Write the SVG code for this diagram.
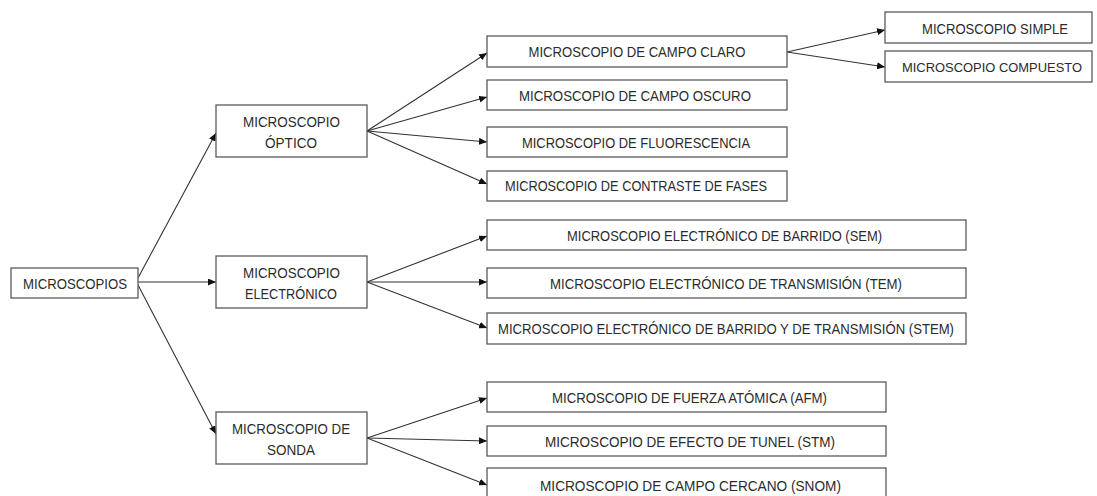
<svg xmlns="http://www.w3.org/2000/svg" width="1097" height="496" viewBox="0 0 1097 496">
<style>
.box{fill:#fff;stroke:#5a5a5a;stroke-width:1.3}
.t{font-family:"Liberation Sans",Arial,sans-serif;font-size:15px;fill:#2b2b2b;text-anchor:middle}
.c{stroke:#333;stroke-width:1.1;fill:none;marker-end:url(#ah)}
</style>
<defs>
<marker id="ah" markerUnits="userSpaceOnUse" markerWidth="8" markerHeight="7" refX="8" refY="3.5" orient="auto">
<path d="M0,0 L8,3.5 L0,7 z" fill="#111"/>
</marker>
</defs>
<rect width="1097" height="496" fill="#fff"/>
<g id="connectors">
<line class="c" x1="138" y1="278" x2="216" y2="133"/>
<line class="c" x1="138" y1="282" x2="216" y2="282"/>
<line class="c" x1="138" y1="285" x2="216" y2="434"/>
<line class="c" x1="367" y1="131" x2="487" y2="53"/>
<line class="c" x1="367" y1="131" x2="487" y2="97"/>
<line class="c" x1="367" y1="131" x2="487" y2="142"/>
<line class="c" x1="367" y1="131" x2="487" y2="184"/>
<line class="c" x1="367" y1="282" x2="487" y2="236"/>
<line class="c" x1="367" y1="282" x2="487" y2="282"/>
<line class="c" x1="367" y1="282" x2="487" y2="328"/>
<line class="c" x1="367" y1="438" x2="487" y2="398"/>
<line class="c" x1="367" y1="438" x2="487" y2="441"/>
<line class="c" x1="367" y1="438" x2="487" y2="485"/>
<line class="c" x1="787" y1="52" x2="885" y2="30"/>
<line class="c" x1="787" y1="52" x2="885" y2="67"/>
</g>
<g id="n-microscopios"><rect class="box" x="11" y="268" width="127" height="30"/><text class="t" x="75" y="288.5" textLength="104" lengthAdjust="spacingAndGlyphs">MICROSCOPIOS</text></g>
<g id="n-optico"><rect class="box" x="216" y="105" width="151" height="52"/><text class="t" x="291.5" y="126.5" textLength="97" lengthAdjust="spacingAndGlyphs">MICROSCOPIO</text><text class="t" x="291" y="147.5" textLength="52" lengthAdjust="spacingAndGlyphs">ÓPTICO</text></g>
<g id="n-electronico"><rect class="box" x="216" y="256" width="151" height="52"/><text class="t" x="291.5" y="277.5" textLength="97" lengthAdjust="spacingAndGlyphs">MICROSCOPIO</text><text class="t" x="291" y="298.5" textLength="92" lengthAdjust="spacingAndGlyphs">ELECTRÓNICO</text></g>
<g id="n-sonda"><rect class="box" x="216" y="412" width="151" height="52"/><text class="t" x="291" y="433.5" textLength="118" lengthAdjust="spacingAndGlyphs">MICROSCOPIO DE</text><text class="t" x="291" y="454.5" textLength="48" lengthAdjust="spacingAndGlyphs">SONDA</text></g>
<g id="n-claro"><rect class="box" x="487" y="36" width="300" height="31"/><text class="t" x="637" y="57" textLength="217" lengthAdjust="spacingAndGlyphs">MICROSCOPIO DE CAMPO CLARO</text></g>
<g id="n-oscuro"><rect class="box" x="487" y="80" width="300" height="30"/><text class="t" x="635" y="100.5" textLength="232" lengthAdjust="spacingAndGlyphs">MICROSCOPIO DE CAMPO OSCURO</text></g>
<g id="n-fluor"><rect class="box" x="487" y="127" width="300" height="30"/><text class="t" x="636" y="147.5" textLength="228" lengthAdjust="spacingAndGlyphs">MICROSCOPIO DE FLUORESCENCIA</text></g>
<g id="n-contraste"><rect class="box" x="487" y="171" width="300" height="30"/><text class="t" x="636" y="191" textLength="262" lengthAdjust="spacingAndGlyphs">MICROSCOPIO DE CONTRASTE DE FASES</text></g>
<g id="n-simple"><rect class="box" x="885" y="12" width="207" height="31"/><text class="t" x="995" y="33.5" textLength="146" lengthAdjust="spacingAndGlyphs">MICROSCOPIO SIMPLE</text></g>
<g id="n-compuesto"><rect class="box" x="885" y="51" width="207" height="31"/><text class="t" x="992" y="71.5" style="font-size:13.5px" textLength="180" lengthAdjust="spacingAndGlyphs">MICROSCOPIO COMPUESTO</text></g>
<g id="n-sem"><rect class="box" x="487" y="220" width="479" height="30"/><text class="t" x="724.5" y="240.5" textLength="315" lengthAdjust="spacingAndGlyphs">MICROSCOPIO ELECTRÓNICO DE BARRIDO (SEM)</text></g>
<g id="n-tem"><rect class="box" x="487" y="268" width="479" height="30"/><text class="t" x="726" y="288.5" textLength="352" lengthAdjust="spacingAndGlyphs">MICROSCOPIO ELECTRÓNICO DE TRANSMISIÓN (TEM)</text></g>
<g id="n-stem"><rect class="box" x="487" y="313" width="479" height="31"/><text class="t" x="726" y="334" textLength="456" lengthAdjust="spacingAndGlyphs">MICROSCOPIO ELECTRÓNICO DE BARRIDO Y DE TRANSMISIÓN (STEM)</text></g>
<g id="n-afm"><rect class="box" x="487" y="382" width="399" height="30"/><text class="t" x="689.5" y="403" textLength="275" lengthAdjust="spacingAndGlyphs">MICROSCOPIO DE FUERZA ATÓMICA (AFM)</text></g>
<g id="n-stm"><rect class="box" x="487" y="426" width="399" height="30"/><text class="t" x="690" y="446.5" textLength="290" lengthAdjust="spacingAndGlyphs">MICROSCOPIO DE EFECTO DE TUNEL (STM)</text></g>
<g id="n-snom"><rect class="box" x="487" y="468" width="399" height="32"/><text class="t" x="690.5" y="490.5" textLength="301" lengthAdjust="spacingAndGlyphs">MICROSCOPIO DE CAMPO CERCANO (SNOM)</text></g>
</svg>
